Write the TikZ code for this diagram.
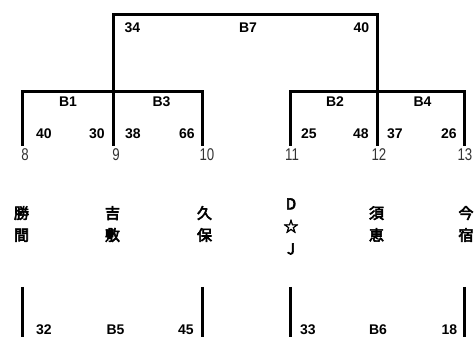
\documentclass[tikz,border=0pt]{standalone}
\usepackage{fontspec}
\setmainfont{Liberation Sans}
\newfontfamily\jpfont{Noto Sans CJK JP}[AutoFakeBold=4]
\newfontfamily\slotfont{Liberation Sans}[FakeStretch=0.78]
\usepackage{tikz}
\usetikzlibrary{positioning}
\tikzstyle{bracket} = [line width=3pt, line join=miter, color=black]
\tikzstyle{score} = [inner sep=0pt, font=\fontsize{14}{14}\selectfont\bfseries]
\tikzstyle{slot} = [inner sep=0pt, text=black!80, font=\slotfont\fontsize{17}{17}\selectfont]
\tikzstyle{team} = [inner sep=0pt, align=center, font=\jpfont\fontsize{15}{22}\selectfont\bfseries]

\begin{document}
\begin{tikzpicture}[x=1pt, y=-1pt]
\clip (0,0) rectangle (475,337);

% Slots
\coordinate (s8) at (22,146);
\coordinate (s9) at (113,146);
\coordinate (s10) at (202,146);
\coordinate (s11) at (290,146);
\coordinate (s12) at (377,146);
\coordinate (s13) at (464,146);
\coordinate (j9) at (113,92);
\coordinate (j12) at (377,92);
\coordinate (top) at (246,15);

% First round
\draw[bracket] (s8) |- (j9) -| (s10);
\draw[bracket] (s11) |- (j12) -| (s13);

% Final
\draw[bracket] (s9) |- (top) -| (s12);

% Lower bracket
\coordinate (b8) at (22,287);
\coordinate (b8e) at (22,345);
\coordinate (b10) at (202,287);
\coordinate (b10e) at (202,345);
\coordinate (b11) at (290,287);
\coordinate (b11e) at (290,345);
\coordinate (b13) at (464,287);
\coordinate (b13e) at (464,345);
\draw[bracket] (b8) -- (b8e);
\draw[bracket] (b10) -- (b10e);
\draw[bracket] (b11) -- (b11e);
\draw[bracket] (b13) -- (b13e);

% Game labels and scores
\node[score] (b7) at (248,27.5) {B7};
\node[score] (b7l) at (132.5,27.5) {34};
\node[score] (b7r) at (361.5,27.5) {40};
\node[score] (g1) at (68,102) {B1};
\node[score] (g3) at (161.5,102) {B3};
\node[score] (g2) at (335,102) {B2};
\node[score] (g4) at (422.5,102) {B4};
\node[score] (g1l) at (44,134) {40};
\node[score] (g1r) at (97,134) {30};
\node[score] (g3l) at (133,134) {38};
\node[score] (g3r) at (187,134) {66};
\node[score] (g2l) at (309,134) {25};
\node[score] (g2r) at (361,134) {48};
\node[score] (g4l) at (395,134) {37};
\node[score] (g4r) at (449,134) {26};
\node[score] (g5) at (115.5,329.5) {B5};
\node[score] (g5l) at (44,329.5) {32};
\node[score] (g5r) at (186,329.5) {45};
\node[score] (g6) at (378,329.5) {B6};
\node[score] (g6l) at (308,329.5) {33};
\node[score] (g6r) at (449.5,329.5) {18};

% Slot numbers
\node[slot] (n8) at (25,155) {8};
\node[slot] (n9) at (116,155) {9};
\node[slot] (n10) at (207,155) {10};
\node[slot] (n11) at (292,155) {11};
\node[slot] (n12) at (379,155) {12};
\node[slot] (n13) at (465,155) {13};

% Teams
\node[team] (t8) at (21.5,224) {勝\\間};
\node[team] (t9) at (112.5,224) {吉\\敷};
\node[team] (t10) at (204.5,224) {久\\保};
\node[team, font=\jpfont\fontsize{15}{22.5}\selectfont\bfseries] (t11) at (291,226.5) {D\\☆\\J};
\node[team] (t12) at (376.5,224) {須\\恵};
\node[team] (t13) at (466,224) {今\\宿};
\end{tikzpicture}
\end{document}
